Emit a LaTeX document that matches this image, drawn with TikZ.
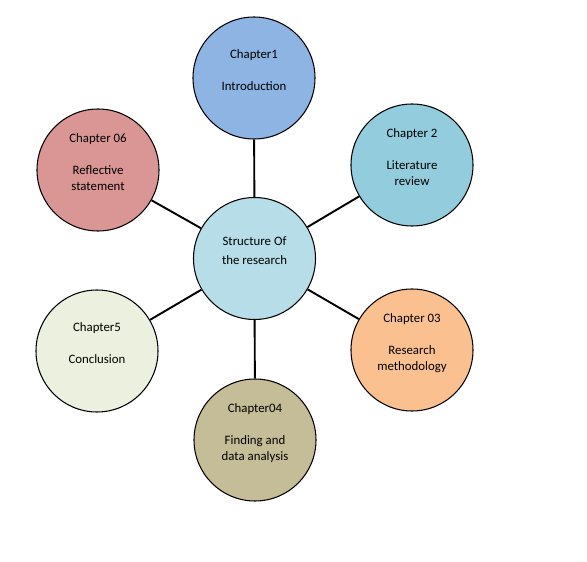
\documentclass[tikz,border=0pt]{standalone}
\usepackage{fontspec}
\setmainfont{Carlito}
\usetikzlibrary{positioning}
\definecolor{cblue}{HTML}{8EB4E3}
\definecolor{cteal}{HTML}{93CDDD}
\definecolor{crose}{HTML}{D99694}
\definecolor{cpale}{HTML}{EBF1DE}
\definecolor{corange}{HTML}{FAC090}
\definecolor{ckhaki}{HTML}{C4BD97}
\definecolor{clight}{HTML}{B7DEE8}

\begin{document}
\begin{tikzpicture}[
		chap/.style={circle, draw, line width=0.6pt, minimum size=2.44cm, inner sep=0pt, align=center,
			font=\fontsize{7.3}{9.1}\selectfont},
		link/.style={line width=1.1pt}]
				\useasboundingbox (0, 0) rectangle (11.74, 11.22);
				\node[chap, fill=clight] (S) at (5.09, 6.05) {Structure Of\\[1.7pt]the research\\\mbox{}};
				\node[chap, fill=cblue] (C1) at (5.08, 9.66) {Chapter1\\[9.1pt]Introduction\\\mbox{}};
				\node[chap, fill=cteal] (C2) at (8.24, 7.92) {Chapter 2\\[9.1pt]Literature\\review\\\mbox{}};
				\node[chap, fill=corange] (C3) at (8.24, 4.22) {Chapter 03\\[9.1pt]Research\\methodology\\\mbox{}};
				\node[chap, fill=ckhaki] (C4) at (5.10, 2.42) {Chapter04\\[9.1pt]Finding and\\data analysis\\\mbox{}};
				\node[chap, fill=cpale] (C5) at (1.94, 4.20) {Chapter5\\[9.1pt]Conclusion\\\mbox{}};
				\node[chap, fill=crose] (C6) at (1.96, 7.82) {Chapter 06\\[9.1pt]Reflective\\statement\\\mbox{}};
				\draw[link] (S) -- (C1);
				\draw[link] (S) -- (C2);
				\draw[link] (S) -- (C3);
				\draw[link] (S) -- (C4);
				\draw[link] (S) -- (C5);
				\draw[link] (S) -- (C6);
			\end{tikzpicture}
\end{document}
